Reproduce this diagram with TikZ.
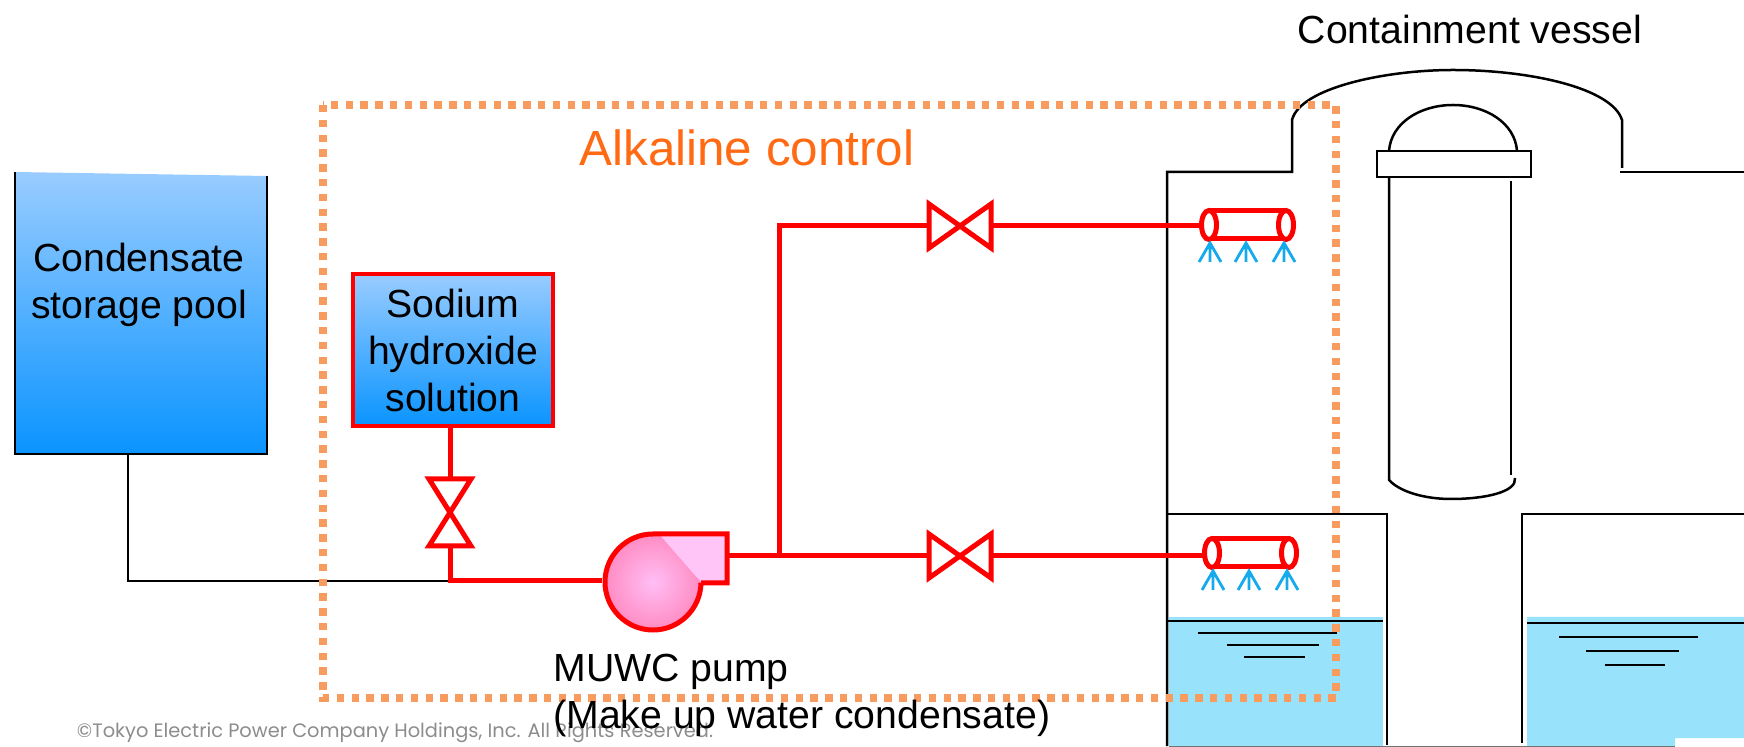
\documentclass[tikz,border=0pt]{standalone}
\usepackage{fontspec}
\usepackage{xcolor}
\setmainfont{Liberation Sans}
\newfontfamily\footfont{Poppins}
\usetikzlibrary{positioning,calc,arrows.meta}
\definecolor{pipered}{RGB}{255,0,0}
\definecolor{boxorange}{RGB}{247,155,94}
\definecolor{titleorange}{RGB}{255,106,19}
\definecolor{tanktop}{RGB}{153,204,255}
\definecolor{tankbot}{RGB}{10,148,255}
\definecolor{waterblue}{RGB}{153,226,252}
\definecolor{sprayblue}{RGB}{20,170,235}
\definecolor{pumpin}{RGB}{255,190,245}
\definecolor{pumpout}{RGB}{255,140,195}
\tikzset{
  pipe/.style={draw=pipered,line width=2.5pt},
  wall/.style={draw=black,line width=1.25pt},
  lbl/.style={font=\fontsize{19.6}{23.5}\selectfont,align=center,inner sep=0pt},
  valveh/.pic={
    \draw[pipe,line join=miter] (-31,-22) -- (31,22) -- (31,-22) -- (-31,22) -- cycle;
    \coordinate (-w) at (-31,0); \coordinate (-e) at (31,0);
  },
  valvev/.pic={
    \draw[pipe,line join=miter] (-21,-31) -- (21,36) -- (-21,36) -- (21,-31) -- cycle;
    \coordinate (-n) at (0,-31); \coordinate (-s) at (0,36);
  },
  header/.pic={
    \draw[pipe] (0,-14) -- (77,-14) (0,14) -- (77,14);
    \draw[pipe,fill=white] (0,0) ellipse (7.5 and 14.5);
    \draw[pipe,fill=white] (77,0) ellipse (7.5 and 14.5);
    \foreach \sx in {1,37,75}
      \draw[draw=sprayblue,line width=1.4pt] (\sx-11,37) -- (\sx,18) -- (\sx+11,37) (\sx,18) -- (\sx,37);
    \coordinate (-in) at (-8,0);
  }
}
\begin{document}
\begin{tikzpicture}[x=0.5pt,y=-0.5pt]
  \useasboundingbox (0,0) rectangle (1744,747);
  % water
  \fill[waterblue] (1169,617) rectangle (1383,746);
  \fill[waterblue] (1527,617) -- (1744,617) -- (1744,738) -- (1675,738) -- (1675,746) -- (1527,746) -- cycle;
  % containment vessel
  \draw[wall] (1167,746) -- (1167,172) -- (1292,172) -- (1292,120)
    .. controls (1300,88) and (1385,70) .. (1453,70)
    .. controls (1530,70) and (1612,88) .. (1622,120) -- (1622,168);
  \draw[wall] (1620,172) -- (1744,172);
  \draw[wall] (1167,514) -- (1387,514) -- (1387,745);
  \draw[wall] (1744,514) -- (1522,514) -- (1522,743);
  \draw[draw=black!55,line width=0.8pt] (1169,746.5) -- (1675,746.5);
  % reactor
  \draw[wall] (1389,151) .. controls (1391,123) and (1420,105) .. (1453,105)
    .. controls (1486,105) and (1515,123) .. (1517,151);
  \draw[wall] (1377,151) rectangle (1531,177);
  \draw[wall] (1389,177) -- (1389,480) .. controls (1400,492) and (1425,499) .. (1451,499)
    .. controls (1485,499) and (1517,492) .. (1515,478);
  \draw[wall] (1511,181) -- (1511,475);
  % water levels
  \draw[wall] (1167,621) -- (1383,621);
  \draw[wall] (1198,633) -- (1337,633) (1227,645) -- (1319,645) (1244,657) -- (1305,657);
  \draw[wall] (1527,623) -- (1744,623);
  \draw[wall] (1559,637) -- (1698,637) (1586,651) -- (1679,651) (1605,665) -- (1665,665);
  % tank
  \shade[top color=tanktop,bottom color=tankbot] (15,172) -- (267,176) -- (267,454) -- (15,454) -- cycle;
  \draw[wall] (15,172) -- (15,454) -- (267,454) -- (267,176);
  \coordinate (poolout) at (128,454);
  \node[lbl] (pool) at (139,285) {Condensate\\storage pool};
  % pipes
  \node[draw=pipered,line width=2.4pt,top color=tanktop,bottom color=tankbot,minimum width=100pt,
    minimum height=76pt,inner sep=0pt,lbl] (naoh) at (453,350) {Sodium\\hydroxide\\solution};
  \coordinate (tee) at (450,581);
  \coordinate (pumpin) at (602,581);
  \coordinate (pumpout) at (728,556);
  \coordinate (rise) at (779,556);
  \coordinate (risetop) at (779,226);
  \pic (vn) at (450,510) {valvev};
  \pic (vu) at (960,226) {valveh};
  \pic (vl) at (960,556) {valveh};
  \pic (hu) at (1209,225) {header};
  \pic (hl) at (1212,553) {header};
  \draw[wall] (poolout) -- (poolout |- tee) -- (tee);
  \draw[pipe] (naoh.south -| tee) -- (vn-n);
  \draw[pipe] (vn-s) -- (tee) -- (pumpin);
  \draw[pipe] (pumpout) -- (vl-w);
  \draw[pipe] (vl-e) -- (vl-e -| hl-in);
  \draw[pipe,line join=miter] (rise) -- (risetop) -- (vu-w);
  \draw[pipe] (vu-e) -- (vu-e -| hu-in);
  % pump
  \shade[inner color=pumpin,outer color=pumpout] (653,582) circle (48);
  \fill[pumpin!90!white] (660,535) -- (727,535) -- (727,583) -- (702,583) -- (693,573) -- cycle;
  \draw[pipe,line join=miter] (701,583) -- (727,583) -- (727,534) -- (653,534)
    arc[start angle=-90,end angle=-359,radius=48];
  % dotted frame
  \draw[draw=boxorange,line width=3.7pt,dash pattern=on 3.7pt off 3.7pt] (323,105) rectangle (1336,698);
  % texts
  \node[lbl] (title) at (1470,29) {Containment vessel};
  \node[lbl,text=titleorange,font=\fontsize{24.7}{28}\selectfont] (alk) at (747,148) {Alkaline control};
  \node[text=black!45,font=\footfont\fontsize{9.7}{12}\selectfont,inner sep=0pt] (foot) at (395,733)
    {©Tokyo Electric Power Company Holdings, Inc. All Rights Reserved.};
  \node[lbl,align=left,anchor=north west] (muwc) at (553,654) {MUWC pump\\(Make up water condensate)};
\end{tikzpicture}
\end{document}
